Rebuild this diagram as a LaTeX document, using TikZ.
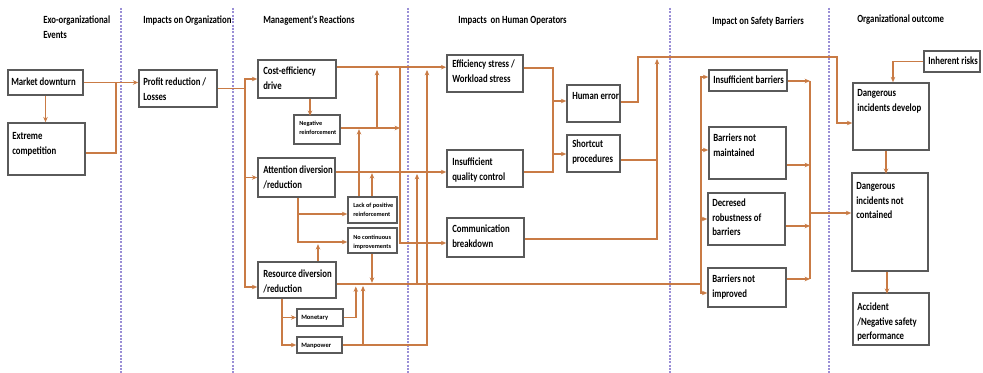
\documentclass[tikz,border=0pt]{standalone}
\usepackage{fontspec}
\newfontfamily\lbl{Carlito}[FakeStretch=0.8]
\newfontfamily\lblw{Carlito}
\usetikzlibrary{arrows.meta,calc,fit}
\definecolor{flowc}{HTML}{C97B45}
\definecolor{boxc}{HTML}{5A5A5A}
\definecolor{lanec}{HTML}{9A8FD6}
\newcommand\bx[5]{\node[box,fit={(#2,#3) (#4,#5)}] (#1) {};}
\begin{document}
\begin{tikzpicture}[x=0.75pt,y=-0.75pt,
  box/.style={draw=boxc,line width=1.2pt,inner sep=0pt},
  txt/.style={anchor=base west,align=flush left,inner sep=0pt,text width=110pt,
    font=\lbl\bfseries\fontsize{8.2}{10.8}\selectfont},
  tiny/.style={txt,font=\lblw\bfseries\fontsize{4.7}{6.6}\selectfont},
  small/.style={txt,font=\lblw\bfseries\fontsize{4.9}{6.4}\selectfont},
  link/.style={draw=flowc,line width=1.3pt},
  flow/.style={link,-{Stealth[length=4pt,width=3.4pt]}},
  lane/.style={draw=lanec,line width=0.8pt,dash pattern=on 1.5pt off 1pt}]
\useasboundingbox[fill=white] (0,0) rectangle (983,373);

% lane separators
\foreach \x in {121,233,408,670,829} \draw[lane] (\x,8) -- (\x,373);

% column headings
\node[txt] (h1) at (43,24) {Exo-organizational\\Events};
\node[txt] (h2) at (143,24) {Impacts on Organization};
\node[txt] (h3) at (263,24) {Management's Reactions};
\node[txt] (h4) at (458,24) {Impacts\, on Human Operators};
\node[txt] (h5) at (712,25) {Impact on Safety Barriers};
\node[txt] (h6) at (857,23) {Organizational outcome};

% boxes
\bx{market}{8}{70}{83}{95}
\bx{extreme}{8}{123}{85}{175}
\bx{profit}{139}{70}{217}{107}
\bx{cost}{258}{60}{336}{98}
\bx{neg}{294}{115}{340}{144}
\bx{attn}{258}{158}{335}{197}
\bx{lack}{348}{197}{397}{223}
\bx{nocont}{348}{228}{397}{253}
\bx{resource}{258}{262}{336}{298}
\bx{monetary}{297}{309}{343}{326}
\bx{manpower}{297}{337}{342}{353}
\bx{eff}{447}{55}{523}{92}
\bx{quality}{447}{150}{523}{187}
\bx{comm}{447}{218}{524}{257}
\bx{human}{567}{85}{620}{122}
\bx{shortcut}{567}{135}{620}{172}
\bx{insuff}{709}{70}{787}{91}
\bx{notmaint}{709}{127}{786}{179}
\bx{decr}{708}{193}{785}{245}
\bx{notimp}{708}{268}{786}{307}
\bx{inherent}{924}{51}{980}{72}
\bx{develop}{853}{83}{929}{150}
\bx{notcont}{852}{173}{928}{271}
\bx{accident}{853}{293}{929}{345}

% box texts
\node[txt] (t-market) at (11,86) {Market downturn};
\node[txt] (t-extreme) at (12,140) {Extreme\\competition};
\node[txt] (t-profit) at (143,86) {Profit reduction /\\Losses};
\node[txt] (t-cost) at (263,75) {Cost-efficiency\\drive};
\node[tiny] (t-neg) at (299,126) {Negative\\reinforcement};
\node[txt] (t-attn) at (263,174) {Attention diversion\\/reduction};
\node[tiny] (t-lack) at (353,208) {Lack of positive\\reinforcement};
\node[tiny] (t-nocont) at (353,240) {No continuous\\improvements};
\node[txt] (t-resource) at (263,278) {Resource diversion\\/reduction};
\node[small] (t-monetary) at (301,320) {Monetary};
\node[small] (t-manpower) at (301,348) {Manpower};
\node[txt] (t-eff) at (452,68) {Efficiency stress /\\Workload stress};
\node[txt] (t-quality) at (452,166) {Insufficient\\quality control};
\node[txt] (t-comm) at (452,233) {Communication\\breakdown};
\node[txt] (t-human) at (572,100) {Human error};
\node[txt] (t-shortcut) at (572,148) {Shortcut\\procedures};
\node[txt] (t-insuff) at (713,84) {Insufficient barriers};
\node[txt] (t-notmaint) at (713,142) {Barriers not\\maintained};
\node[txt] (t-decr) at (712,207) {Decresed\\robustness of\\barriers};
\node[txt] (t-notimp) at (712,283) {Barriers not\\improved};
\node[txt] (t-inherent) at (928,65) {Inherent risks};
\node[txt] (t-develop) at (857,97) {Dangerous\\incidents develop};
\node[txt] (t-notcont) at (856,190) {Dangerous\\incidents not\\contained};
\node[txt] (t-accident) at (857,311) {Accident\\/Negative safety\\performance};

% exo-organizational events -> organization
\coordinate (jm) at (116,82.5);
\draw[flow] (market.east) -- (market.east -| profit.west);
\draw[link] ($(extreme.east)+(0,4)$) -| (jm);
\draw[flow] (market.south) -- (market.south |- extreme.north);

% organization -> management
\coordinate (jp) at (245,88.5);
\draw[link] (profit.east) -- (profit.east -| jp);
\draw[flow] (jp) |- (cost.west);
\draw[flow] (jp) |- (attn.west);
\draw[flow] (jp) |- ($(resource.west)+(0,7)$);

% within management
\draw[flow] ($(cost.south)+(13,0)$) -- ++(0,17);
\draw[flow] ($(attn.south)+(1.5,0)$) |- ($(lack.west)+(0,4)$);
\draw[flow] ($(attn.south)+(1.5,0)$) |- ($(nocont.west)+(0,1.5)$);
\draw[flow] ($(resource.north)+(21,0)$) -- ++(0,-17);
\draw[flow] ($(nocont.south)+(-0.5,0)$) -- ++(0,29);
\draw[flow] ($(resource.south)+(-15,0)$) |- (monetary.west);
\draw[flow] ($(resource.south)+(-15,0)$) |- (manpower.west);

% management -> human operators
\coordinate (rc) at (400,68);
\coordinate (rr) at (701,284);
\draw[flow] ($(cost.north east)+(0,8)$) -- ($(eff.north west)+(0,13)$);
\draw[flow] ($(neg.east)+(0,-1.5)$) -- (400,128);
\draw[flow] (377,128) -- (377,70);
\draw[flow] ($(lack.north)+(-13.5,0)$) -- ++(0,-67);
\draw[flow] ($(lack.north)+(-0.5,0)$) -- ++(0,-23);
\draw[flow] ($(attn.east)+(0,-5.5)$) -- ($(quality.west)+(0,3.5)$);
\draw[flow] (rc) |- ($(comm.west)+(0,5.5)$);
\draw[link] ($(resource.east)+(0,4)$) -- (rr);
\draw[flow] (417,284) -- (417,174);
\draw[flow] (monetary.east) -| ++(12,-31);
\draw[flow] (manpower.east) -| (427,70);
\draw[flow] (363,345) -- (363,286);

% human operators -> barriers and outcome
\draw[link] ($(eff.east)+(0,-5.5)$) -| (553,172) -- ($(quality.east)+(0,3.5)$);
\draw[flow] (553,101) -- ($(human.west)+(0,-2.5)$);
\draw[flow] (553,154) -- ($(shortcut.west)+(0,0.5)$);
\draw[flow] ($(human.east)+(0,-1.5)$) -- (638,102) |- (837,57) |- ($(develop.west)+(0,6.5)$);
\draw[link] ($(shortcut.east)+(0,6.5)$) -- (657,160);
\draw[flow] ($(comm.east)+(0,1.5)$) -| (657,59);

% resource rail -> barriers
\draw[flow] (rr) |- ($(insuff.west)+(0,-3.5)$);
\draw[flow] (rr) |- ($(notmaint.west)+(0,-3)$);
\draw[flow] (rr) |- (decr.west);
\draw[flow] (rr) |- ($(notimp.west)+(0,5.5)$);

% barriers -> outcome
\coordinate (rb) at (810,213);
\draw[link] (810,81) -- (810,279);
\draw[flow] ($(insuff.east)+(0,0.5)$) -- (810,81);
\draw[flow] ($(notmaint.east)+(0,12)$) -- (810,165);
\draw[flow] ($(decr.east)+(0,7)$) -- (810,226);
\draw[flow] ($(notimp.east)+(0,-8.5)$) -- (810,279);
\draw[flow] (rb) -- (rb -| notcont.west);

% organizational outcome chain
\draw[flow] (inherent.west) -| ($(develop.north)+(2,0)$);
\draw[flow] ($(develop.south)+(-5,0)$) -- ++(0,23);
\draw[flow] ($(notcont.south)+(-3,0)$) -- ++(0,22);
\end{tikzpicture}
\end{document}
